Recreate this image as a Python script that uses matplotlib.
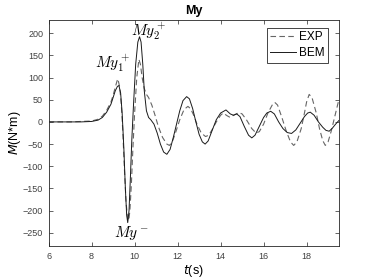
import matplotlib
matplotlib.use("Agg")
from matplotlib import pyplot as plt

# BEM (solid) series
t_bem = [6.0, 7.0, 7.5, 8.0, 8.3, 8.5, 8.7, 8.9, 9.0, 9.1, 9.2, 9.27, 9.35, 9.42,
         9.5, 9.57, 9.63, 9.68, 9.74, 9.8, 9.87, 9.95, 10.05, 10.15, 10.23, 10.3,
         10.38, 10.45, 10.55, 10.65, 10.75, 10.9, 11.05, 11.2, 11.35, 11.5, 11.65,
         11.8, 11.95, 12.1, 12.25, 12.42, 12.55, 12.7, 12.85, 13.0, 13.15, 13.28,
         13.42, 13.6, 13.8, 14.0, 14.25, 14.45, 14.6, 14.75, 14.9, 15.1, 15.3,
         15.45, 15.6, 15.8, 16.0, 16.15, 16.33, 16.5, 16.7, 16.9, 17.1, 17.3,
         17.5, 17.7, 17.9, 18.05, 18.17, 18.35, 18.55, 18.75, 18.9, 19.05, 19.2,
         19.35, 19.5]
m_bem = [0, 0, 0, 1, 4, 10, 22, 40, 55, 70, 80, 82, 65, 20,
         -60, -150, -210, -227, -200, -130, -40, 40, 130, 180, 192, 180,
         130, 70, 25, 10, 5, -5, -25, -50, -68, -73, -62,
         -35, -5, 25, 48, 57, 52, 30, 0, -28, -45, -50,
         -43, -20, 5, 20, 27, 18, 15, 18, 12, -10, -30,
         -36, -30, -10, 10, 20, 24, 18, 0, -15, -24, -26,
         -18, -3, 12, 20, 22, 15, 0, -12, -19, -21, -14,
         -5, 3]

# EXP (dashed) series
t_exp = [6.0, 7.0, 7.5, 8.0, 8.3, 8.5, 8.7, 8.9, 9.0, 9.1, 9.18, 9.22, 9.3, 9.38,
         9.45, 9.52, 9.6, 9.67, 9.73, 9.78, 9.85, 9.92, 10.0, 10.1, 10.2, 10.27,
         10.35, 10.45, 10.55, 10.65, 10.8, 10.95, 11.1, 11.3, 11.5, 11.62, 11.75,
         11.9, 12.1, 12.3, 12.48, 12.6, 12.75, 12.9, 13.1, 13.3, 13.45, 13.6,
         13.8, 14.0, 14.12, 14.3, 14.45, 14.6, 14.85, 15.0, 15.2, 15.45, 15.65,
         15.8, 16.0, 16.2, 16.4, 16.52, 16.65, 16.85, 17.05, 17.25, 17.4, 17.55,
         17.75, 17.9, 18.0, 18.12, 18.25, 18.45, 18.6, 18.75, 18.87, 19.0, 19.15,
         19.3, 19.45, 19.5]
m_exp = [0, 0, 1, 2, 6, 13, 26, 45, 60, 78, 92, 97, 80, 40,
         -20, -100, -180, -215, -222, -200, -140, -60, 20, 100, 141, 130,
         100, 75, 62, 55, 38, 15, -10, -35, -50, -53, -45,
         -25, 5, 28, 35, 30, 15, -5, -25, -33, -30, -18,
         0, 15, 20, 14, 10, 15, 21, 18, 5, -15, -25,
         -22, -5, 20, 38, 44, 38, 10, -20, -45, -53, -45,
         -15, 20, 45, 62, 55, 20, -15, -42, -53, -45, -20,
         10, 40, 50]

# peak labels
peak_labels = [r'$My_1^+$', r'$My_2^+$', r'$My^-$']
peak_t = [8.97, 10.64, 9.86]
peak_m = [133, 204, -251]

xticks = [6, 8, 10, 12, 14, 16, 18]
yticks = [-250, -200, -150, -100, -50, 0, 50, 100, 150, 200]

plt.rcParams['font.family'] = ['Liberation Sans', 'DejaVu Sans']
plt.rcParams['mathtext.fontset'] = 'dejavusans'

fig = plt.figure(figsize=(3.74, 2.8), dpi=100)
ax = fig.add_axes([0.130, 0.121, 0.776, 0.808])

ax.plot(t_exp, m_exp, linestyle=(0, (5, 3)), color='0.4', lw=0.8, label='EXP')
ax.plot(t_bem, m_bem, linestyle='-', color='0.1', lw=0.7, label='BEM')

for lab, x, y in zip(peak_labels, peak_t, peak_m):
    ax.text(x, y, lab, ha='center', va='center', fontsize=11, math_fontfamily='cm')

ax.set_xlim(6, 19.5)
ax.set_ylim(-280, 230)
ax.set_xticks(xticks)
ax.set_yticks(yticks)
ax.tick_params(direction='in', top=True, right=True, labelsize=6.5,
               length=3, width=0.5, colors='0.15', pad=4)
ax.tick_params(labelcolor='0.25')
for sp in ax.spines.values():
    sp.set_color('0.15')
    sp.set_linewidth(0.6)

ax.set_title('My', fontsize=9, fontweight='bold', pad=4)
ax.set_xlabel(r'$\mathit{t}$(s)', fontsize=9, labelpad=2)
ax.set_ylabel(r'$\mathit{M}$(N*m)', fontsize=9, labelpad=0)

leg = ax.legend(loc='upper right', bbox_to_anchor=(0.962, 0.966), borderaxespad=0,
                fontsize=8.5, frameon=True, fancybox=False, framealpha=1,
                handlelength=2.2, handletextpad=0.2, borderpad=0.3,
                labelspacing=0.35)
leg.get_frame().set_edgecolor('0.15')
leg.get_frame().set_linewidth(0.6)

fig.savefig('out.png', dpi=100)
